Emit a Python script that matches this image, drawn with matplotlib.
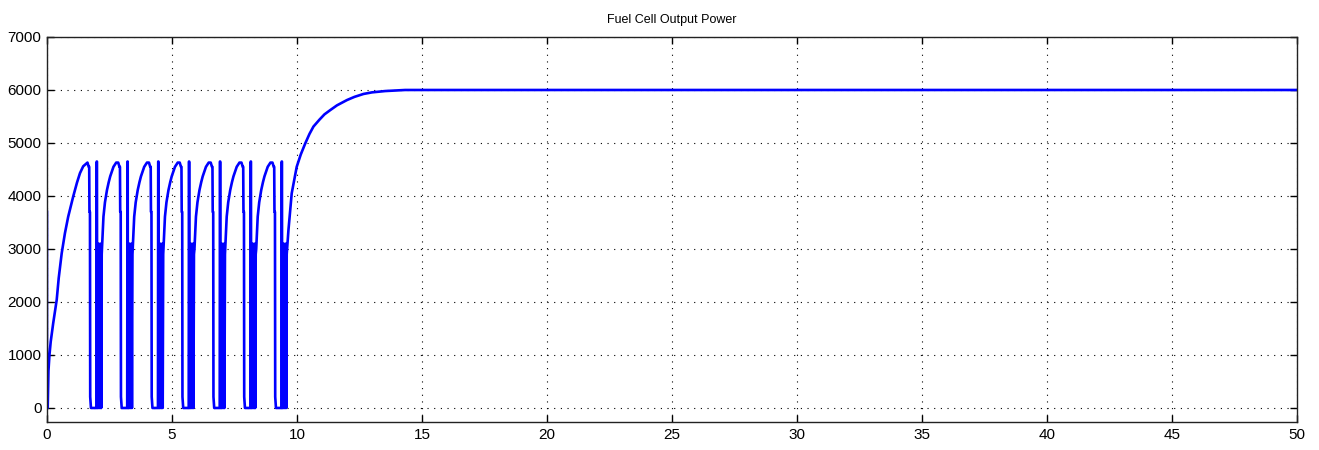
"""Fuel cell output power trace, redrawn in the MATLAB scope style."""

import matplotlib
import matplotlib.pyplot as plt
import numpy as np

matplotlib.use("Agg")

# peak instants of the on/off cycles (s)
peak_times = [1.59, 2.82, 4.05, 5.28, 6.52, 7.75, 8.99]

# first start-up ramp (absolute time, W)
start_t = [0.0, 0.0, 0.03, 0.06, 0.10, 0.15, 0.25, 0.39, 0.47, 0.59, 0.72,
           0.85, 1.05, 1.20, 1.32, 1.45]
start_p = [3700, 0, 0, 700, 1000, 1250, 1600, 2040, 2450, 2920, 3300,
           3610, 3990, 4250, 4430, 4560]

# ramp into each later peak (time relative to peak, W)
rise_dt = [-0.62, -0.56, -0.50, -0.42, -0.35, -0.29, -0.22, -0.16, -0.05]
rise_p = [3000, 3610, 3880, 4110, 4260, 4370, 4470, 4550, 4630]

# drop after each peak, the spike and the chattering band (relative time, W)
fall_dt = [0.03, 0.08, 0.10, 0.11, 0.13, 0.14, 0.17, 0.39, 0.40, 0.41, 0.42,
           0.46, 0.48, 0.50, 0.52, 0.54, 0.56, 0.58, 0.60]
fall_p = [4630, 4550, 4550, 3700, 3700, 210, 0, 0, 4650, 4650, 0,
          0, 3100, 0, 3000, 0, 3100, 0, 2900]

# final settling to rated power (absolute time, W)
settle_t = [9.66, 9.79, 9.99, 10.15, 10.33, 10.5, 10.66, 10.9, 11.1, 11.33,
            11.6, 12.0, 12.3, 12.66, 13.0, 13.53, 14.33, 50.0]
settle_p = [3360, 4050, 4550, 4780, 4990, 5170, 5310, 5440, 5540, 5620,
            5710, 5810, 5870, 5925, 5955, 5980, 6000, 6000]


def build_trace():
    t = list(start_t)
    p = list(start_p)
    for i, tp in enumerate(peak_times):
        if i > 0:
            t += [tp + d for d in rise_dt]
            p += rise_p
        t += [tp + d for d in fall_dt]
        p += fall_p
    t += settle_t
    p += settle_p
    return np.array(t), np.array(p)


def main():
    t, p = build_trace()

    plt.rcParams["font.family"] = ["Liberation Sans", "DejaVu Sans"]
    fig = plt.figure(figsize=(13.19, 4.5), dpi=100)
    ax = fig.add_axes([0.0356, 0.0622, 0.9477, 0.8556])

    ax.plot(t, p, color="#0000ff", linewidth=1.9)

    ax.set_xlim(0, 50)
    ax.set_ylim(-265, 7000)
    ax.set_xticks(np.arange(0, 51, 5))
    ax.set_yticks(np.arange(0, 7001, 1000))
    ax.grid(True, color="black", linestyle=(0, (1, 5)), linewidth=0.8)
    ax.tick_params(direction="in", length=5, width=1, top=True, right=True,
                   labelsize=11, pad=4)
    for side in ax.spines.values():
        side.set_linewidth(1)
        side.set_color("#222222")

    ax.set_title("Fuel Cell Output Power", fontsize=9, pad=10)

    fig.savefig("out.png", dpi=100)
    plt.close(fig)


if __name__ == "__main__":
    main()
